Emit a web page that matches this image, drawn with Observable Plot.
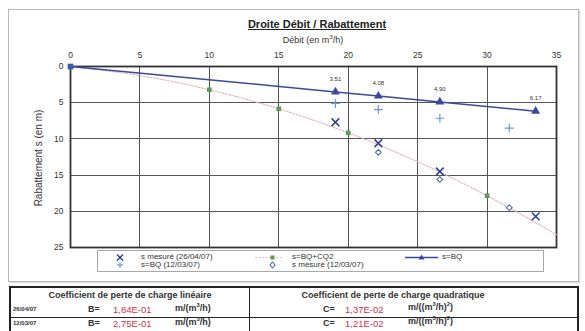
<!DOCTYPE html>
<html>
<head>
<meta charset="utf-8">
<script src="https://cdn.jsdelivr.net/npm/d3@7"></script>
<script src="https://cdn.jsdelivr.net/npm/@observablehq/plot@0.6"></script>
<style>
  html, body { margin:0; padding:0; background:#fff; }
  body { width:585px; height:331px; overflow:hidden; position:relative; font-family:"Liberation Sans", Arial, sans-serif; color:#333; }
  .abs { position:absolute; white-space:nowrap; }
  .c { transform:translate(-50%,-50%); }
  .red { color:#d8304c; }
  .lg { font-size:8px; line-height:8px; }
  sup { font-size:65%; vertical-align:top; position:relative; top:-1px; }
</style>
</head>
<body>
<div id="frame" class="abs" style="left:8px;top:9px;width:569px;height:271px;border:1px solid #b8b8b8;box-shadow:1px 1px 1px #ddd;"></div>
<div id="chart" class="abs" style="left:0;top:0;"></div>
<div class="abs c" style="left:317px;top:24px;font-weight:bold;font-size:11px;text-decoration:underline;color:#222;">Droite Débit / Rabattement</div>
<div class="abs c" style="left:313px;top:40px;font-size:9px;color:#333;">Débit (en m<sup>3</sup>/h)</div>
<div class="abs c" style="left:38px;top:158px;font-size:10px;color:#333;transform:translate(-50%,-50%) rotate(-90deg);">Rabattement s (en m)</div>

<div id="legend" class="abs" style="left:97px;top:250px;width:445px;height:20px;border:1px solid #a8a8a8;"></div>
<div id="table"></div>

<script>
// ---- data ----
const xTicks = [0, 5, 10, 15, 20, 25, 30, 35];
const yTicks = [0, 5, 10, 15, 20, 25];

// s = BQ (26/04/07)
const debitBQ = [0, 19.08, 22.17, 26.6, 33.5];
const sBQ = [0, 3.51, 4.08, 4.90, 6.17];
const sBQLabels = ["", "3,51", "4,08", "4,90", "6,17"];

// s mesuré (26/04/07)
const debitMes2604 = [19.08, 22.17, 26.6, 33.5];
const sMes2604 = [7.7, 10.6, 14.5, 20.7];

// s = BQ (12/03/07)
const debitBQ1203 = [19.08, 22.17, 26.6, 31.6];
const sBQ1203 = [5.1, 5.95, 7.15, 8.5];

// s mesuré (12/03/07)
const debitMes1203 = [22.17, 26.6, 31.6];
const sMes1203 = [11.85, 15.6, 19.5];

// s = BQ + CQ2 (curve)
const debitCurve = [0, 5, 10, 15, 20, 25, 30, 35];
const sCurve = [0, 1.26, 3.21, 5.84, 9.16, 13.16, 17.85, 23.22];
const debitCurvePts = [10, 15, 20, 30];
const sCurvePts = [3.21, 5.84, 9.16, 17.85];

// coefficients
const dates = ["26/04/07", "12/03/07"];
const coefB = ["1,84E-01", "2,75E-01"];
const coefC = ["1,37E-02", "1,21E-02"];

// legend labels
const legendLabels = [
  ["s mesuré (26/04/07)", "s=BQ (12/03/07)"],
  ["s=BQ+CQ2", "s mesuré (12/03/07)"],
  ["s=BQ"]
];

// ---- tables for Plot ----
const bq = debitBQ.map((d, i) => ({q: d, s: sBQ[i], label: sBQLabels[i]}));
const mes2604 = debitMes2604.map((d, i) => ({q: d, s: sMes2604[i]}));
const bq1203 = debitBQ1203.map((d, i) => ({q: d, s: sBQ1203[i]}));
const mes1203 = debitMes1203.map((d, i) => ({q: d, s: sMes1203[i]}));
const curve = debitCurve.map((d, i) => ({q: d, s: sCurve[i]}));
const curvePts = debitCurvePts.map((d, i) => ({q: d, s: sCurvePts[i]}));

const blue = "#38499e";
const chart = Plot.plot({
  width: 585,
  height: 252,
  marginTop: 66,
  marginLeft: 70,
  marginRight: 29,
  marginBottom: 5,
  style: {fontFamily: "Liberation Sans, Arial, sans-serif", fontSize: "8.5px", color: "#333", background: "transparent"},
  x: {domain: [0, 35], axis: null},
  y: {domain: [0, 25], reverse: true, axis: null},
  marks: [
    Plot.gridX(xTicks, {stroke: "#555", strokeOpacity: 1, strokeWidth: 1, shapeRendering: "crispEdges"}),
    Plot.gridY(yTicks, {stroke: "#555", strokeOpacity: 1, strokeWidth: 1, shapeRendering: "crispEdges"}),
    Plot.axisX(xTicks, {anchor: "top", tickSize: 0, tickPadding: 9, label: null, fontSize: 8.5}),
    Plot.axisY(yTicks, {anchor: "left", tickSize: 0, tickPadding: 7, label: null, fontSize: 8.5}),
    Plot.frame({stroke: "#333", strokeWidth: 1.8}),
    Plot.line(curve, {x: "q", y: "s", curve: "natural", stroke: "#e7b3bb", strokeWidth: 1.1, strokeDasharray: "2,1.5"}),
    Plot.dot(curvePts, {x: "q", y: "s", symbol: "square", r: 2.6, fill: "#5c9c58", stroke: "none"}),
    Plot.line(bq, {x: "q", y: "s", stroke: blue, strokeWidth: 1.5}),
    Plot.dot(bq.slice(1), {x: "q", y: "s", symbol: "triangle", r: 3.3, fill: blue, stroke: "none"}),
    Plot.dot([bq[0]], {x: "q", y: "s", symbol: "square", r: 3.2, fill: "#3b5aa8", stroke: "none"}),
    Plot.text(bq.slice(1), {x: "q", y: "s", text: "label", dy: -13, fontSize: 6, fill: "#333"}),
    Plot.dot(bq1203, {x: "q", y: "s", symbol: "plus", r: 3, stroke: "#6a9bd0", strokeWidth: 1.2}),
    Plot.dot(mes1203, {x: "q", y: "s", symbol: "diamond2", r: 2.6, stroke: "#4b6bb5", strokeWidth: 1.1, fill: "white"}),
    Plot.dot(mes2604, {x: "q", y: "s", symbol: "times", r: 3.6, stroke: "#2e3f90", strokeWidth: 1.5})
  ]
});
document.getElementById("chart").appendChild(chart);

// ---- legend ----
const lx = [141, 292, 442];
let legendHTML = `
<svg class="abs" style="left:0;top:0;" width="585" height="331">
  <g stroke="#2e3f90" stroke-width="1.4"><line x1="117" y1="254.5" x2="123" y2="260.5"/><line x1="123" y1="254.5" x2="117" y2="260.5"/></g>
  <g stroke="#6a9bd0" stroke-width="1.2"><line x1="117" y1="265" x2="123" y2="265"/><line x1="120" y1="262" x2="120" y2="268"/></g>
  <line x1="255" y1="257.5" x2="283" y2="257.5" stroke="#e7b3bb" stroke-width="1" stroke-dasharray="2,1.5"/>
  <rect x="270.5" y="255.5" width="4" height="4" fill="#5c9c58"/>
  <path d="M272.5,262 L275,265 L272.5,268 L270,265 Z" fill="white" stroke="#4b6bb5" stroke-width="1.1"/>
  <line x1="405" y1="257.5" x2="438" y2="257.5" stroke="${blue}" stroke-width="1.4"/>
  <path d="M421.5,254.5 L424.5,259.5 L418.5,259.5 Z" fill="${blue}"/>
</svg>`;
legendLabels.forEach((col, c) => {
  col.forEach((lab, r) => {
    legendHTML += `<div class="abs lg" style="left:${lx[c]}px;top:${253 + r * 8}px;">${lab}</div>`;
  });
});
document.getElementById("legend").insertAdjacentHTML("afterend", legendHTML);

// ---- coefficient table ----
let t = `
<div class="abs" style="left:9px;top:286px;width:566px;height:50px;border:2px solid #222;"></div>
<div class="abs" style="left:249px;top:286px;width:0;height:50px;border-left:1.5px solid #222;"></div>
<div class="abs" style="left:9px;top:317px;width:568px;height:0;border-top:1.5px solid #222;"></div>
<div class="abs c" style="left:130px;top:295px;font-weight:bold;font-size:9px;color:#333;">Coefficient de perte de charge linéaire</div>
<div class="abs c" style="left:393px;top:295px;font-weight:bold;font-size:9px;color:#333;">Coefficient de perte de charge quadratique</div>
`;
const rowY = [310, 324];
dates.forEach((d, i) => {
  const y = rowY[i];
  t += `
<div class="abs" style="left:13px;top:${y - 4}px;font-weight:bold;font-size:6px;color:#333;">${d}</div>
<div class="abs" style="left:88px;top:${y - 6}px;font-weight:bold;font-size:9px;color:#333;">B=</div>
<div class="abs red" style="left:113px;top:${y - 6}px;font-size:9.5px;">${coefB[i]}</div>
<div class="abs" style="left:175px;top:${y - 7}px;font-weight:bold;font-size:9px;color:#333;">m/(m<sup>3</sup>/h)</div>
<div class="abs" style="left:323px;top:${y - 6}px;font-weight:bold;font-size:9px;color:#333;">C=</div>
<div class="abs red" style="left:345px;top:${y - 6}px;font-size:9.5px;">${coefC[i]}</div>
<div class="abs" style="left:408px;top:${y - 8}px;font-weight:bold;font-size:9px;color:#333;">m/((m<sup>3</sup>/h)<sup>2</sup>)</div>
`;
});
document.getElementById("table").innerHTML = t;
</script>
</body>
</html>
